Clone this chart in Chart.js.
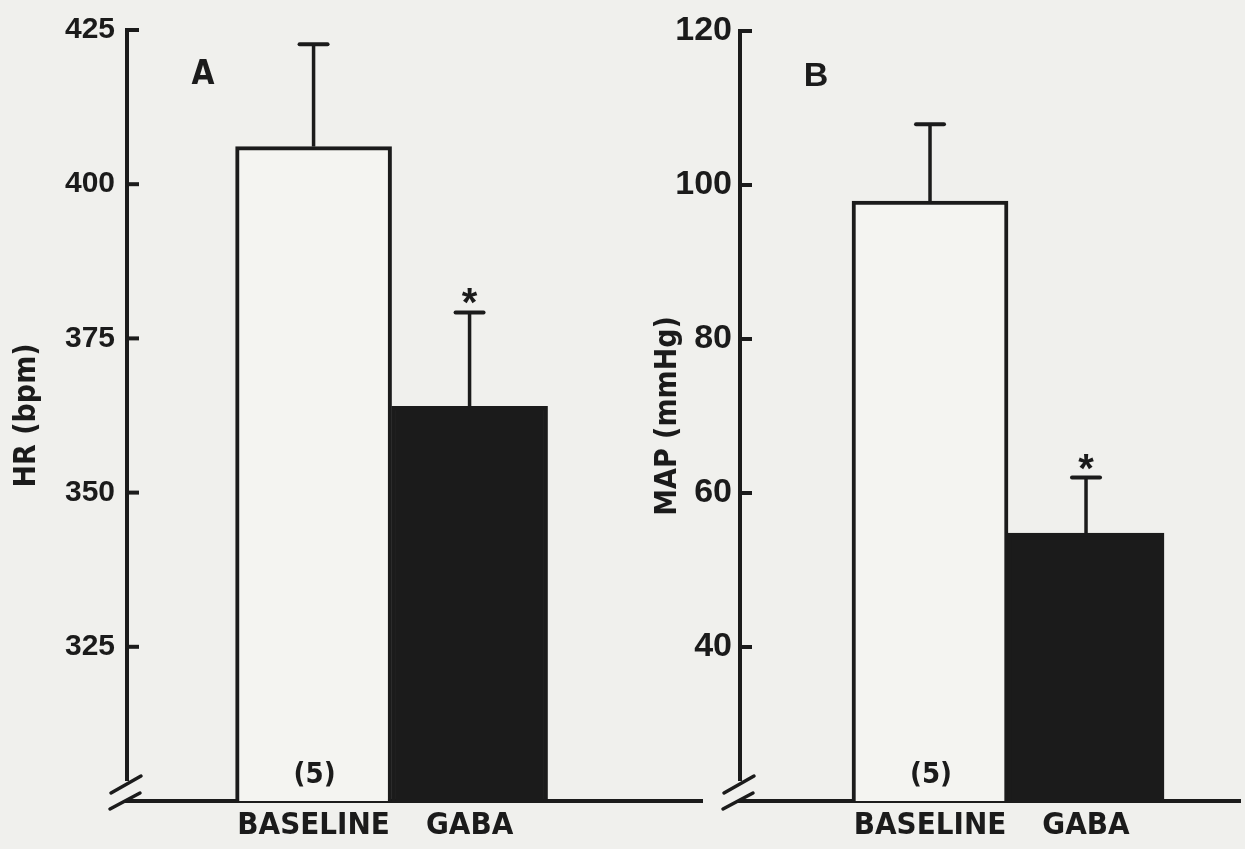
<!DOCTYPE html>
<html>
<head>
<meta charset="utf-8">
<title>HR and MAP, baseline vs GABA</title>
<script src="https://cdn.jsdelivr.net/npm/chart.js@4.4.1/dist/chart.umd.min.js"></script>
<style>
  html, body { margin: 0; padding: 0; background: #f0f0ed; }
  body { width: 1245px; height: 849px; position: relative; overflow: hidden; }
  canvas { position: absolute; top: 0; }
  #chartA { left: 0; }
  #chartB { left: 620px; }
</style>
</head>
<body>
<canvas id="chartA" width="720" height="849"></canvas>
<canvas id="chartB" width="625" height="849"></canvas>
<script>
// data
const groups = ['BASELINE', 'GABA'];
const groupX = [1, 2];
const hrMeans = [406.1, 364.0];
const hrSem = [16.6, 15.2];
const mapMeans = [97.9, 54.8];
const mapSem = [10.0, 7.2];
const significant = [false, true];
const nLabel = '(5)';

// axis ranges and tick steps
const hrRange = [300, 425, 25];
const mapRange = [20, 120, 20];

const ink = '#1b1b1b';
const paper = '#f4f4f1';
const narrow = '"Liberation Sans Narrow", "DejaVu Sans Condensed", "Arial Narrow", sans-serif';
const wide = '"Liberation Sans", Arial, sans-serif';

// extra marks: y axis with its break, inward ticks, error bars, stars, letters
const figureMarks = {
  id: 'figureMarks',
  afterDatasetsDraw(chart, args, opts) {
    const { ctx, chartArea } = chart;
    const x = chart.scales.x;
    const y = chart.scales.y;
    const left = chartArea.left;
    const base = y.getPixelForValue(y.min);

    const line = (x1, y1, x2, y2) => {
      ctx.beginPath();
      ctx.moveTo(x1, y1);
      ctx.lineTo(x2, y2);
      ctx.stroke();
    };

    ctx.save();
    ctx.strokeStyle = ink;
    ctx.fillStyle = ink;
    ctx.lineWidth = 4;
    ctx.lineCap = 'butt';

    // y axis stops short of the x axis
    line(left, y.getPixelForValue(y.max) - 2, left, base - 20);
    y.ticks.forEach(t => {
      if (t.value === y.min) return;
      const py = y.getPixelForValue(t.value);
      line(left - 2, py, left + 12, py);
    });

    // break marks
    ctx.lineWidth = 3.5;
    ctx.lineCap = 'round';
    line(left - 16, base - 8, left + 14, base - 25);
    line(left - 17, base + 8, left + 13, base - 8);

    // error bars (upper half only)
    opts.means.forEach((m, i) => {
      const px = x.getPixelForValue(groupX[i]);
      const pm = y.getPixelForValue(m);
      const pt = y.getPixelForValue(m + opts.sem[i]);
      ctx.lineWidth = 3.5;
      ctx.lineCap = 'butt';
      line(px, pm, px, pt);
      ctx.lineWidth = 4;
      ctx.lineCap = 'round';
      line(px - 14, pt, px + 14, pt);
      if (significant[i]) {
        ctx.font = 'bold 40px ' + wide;
        ctx.textAlign = 'center';
        ctx.textBaseline = 'alphabetic';
        ctx.fillText('*', px, pt + 4);
      }
    });

    // n inside the baseline bar
    ctx.font = 'bold 29px ' + narrow;
    ctx.textAlign = 'center';
    ctx.textBaseline = 'middle';
    ctx.fillText(nLabel, x.getPixelForValue(groupX[0]) + 1, base - 26);

    // panel letter
    ctx.font = opts.letterFont;
    ctx.fillText(opts.letter, left + opts.letterPos[0], chartArea.top + opts.letterPos[1]);
    ctx.restore();
  }
};

function makePanel(id, p) {
  const data = {
    datasets: [{
      data: p.means.map((v, i) => ({ x: groupX[i], y: v })),
      backgroundColor: [paper, ink],
      borderColor: ink,
      borderWidth: 4,
      borderSkipped: false,
      barPercentage: 1,
      categoryPercentage: 1
    }]
  };

  const config = {
    type: 'bar',
    data,
    plugins: [figureMarks],
    options: {
      responsive: false,
      animation: false,
      layout: { padding: { top: p.padTop, right: p.padRight, left: 0, bottom: 0 } },
      plugins: {
        legend: { display: false },
        tooltip: { enabled: false },
        figureMarks: {
          means: p.means,
          sem: p.sem,
          letter: p.letter,
          letterFont: p.letterFont,
          letterPos: p.letterPos
        }
      },
      scales: {
        x: {
          type: 'linear',
          offset: false,
          bounds: 'data',
          min: p.xRange[0],
          max: p.xRange[1],
          grid: { display: false, drawTicks: false, offset: false },
          border: { display: true, color: ink, width: 4 },
          afterBuildTicks: s => { s.ticks = groupX.map(v => ({ value: v })); },
          afterFit: s => { s.height = 48; },
          ticks: {
            color: ink,
            padding: 6,
            maxRotation: 0,
            autoSkip: false,
            font: { family: narrow, size: 31, weight: 'bold' },
            callback: v => groups[groupX.indexOf(v)] || ''
          }
        },
        y: {
          min: p.range[0],
          max: p.range[1],
          grid: { display: false, drawTicks: false },
          border: { display: false },
          afterFit: s => { s.width = p.axisWidth; },
          ticks: {
            stepSize: p.range[2],
            color: ink,
            padding: p.tickPad,
            font: { family: wide, size: p.tickSize, weight: 'bold' },
            callback: v => (v === p.range[0] ? '' : v)
          },
          title: {
            display: true,
            text: p.title,
            color: ink,
            padding: { top: p.titlePad, bottom: 0 },
            font: { family: narrow, size: 30, weight: 'bold' }
          }
        }
      }
    }
  };

  return new Chart(document.getElementById(id), config);
}

makePanel('chartA', {
  means: hrMeans,
  sem: hrSem,
  range: hrRange,
  title: 'HR (bpm)',
  letter: 'A',
  letterFont: 'bold 33px ' + narrow,
  letterPos: [76, 45],
  xRange: [-0.196, 3.49],
  axisWidth: 127,
  padTop: 27,
  padRight: 18,
  tickPad: 12,
  tickSize: 30,
  titlePad: 9
});

makePanel('chartB', {
  means: mapMeans,
  sem: mapSem,
  range: mapRange,
  title: 'MAP (mmHg)',
  letter: 'B',
  letterFont: 'bold 34px ' + wide,
  letterPos: [76, 46],
  xRange: [-0.218, 2.987],
  axisWidth: 120,
  padTop: 31,
  padRight: 5,
  tickPad: 8,
  tickSize: 34,
  titlePad: 30
});
</script>
</body>
</html>
